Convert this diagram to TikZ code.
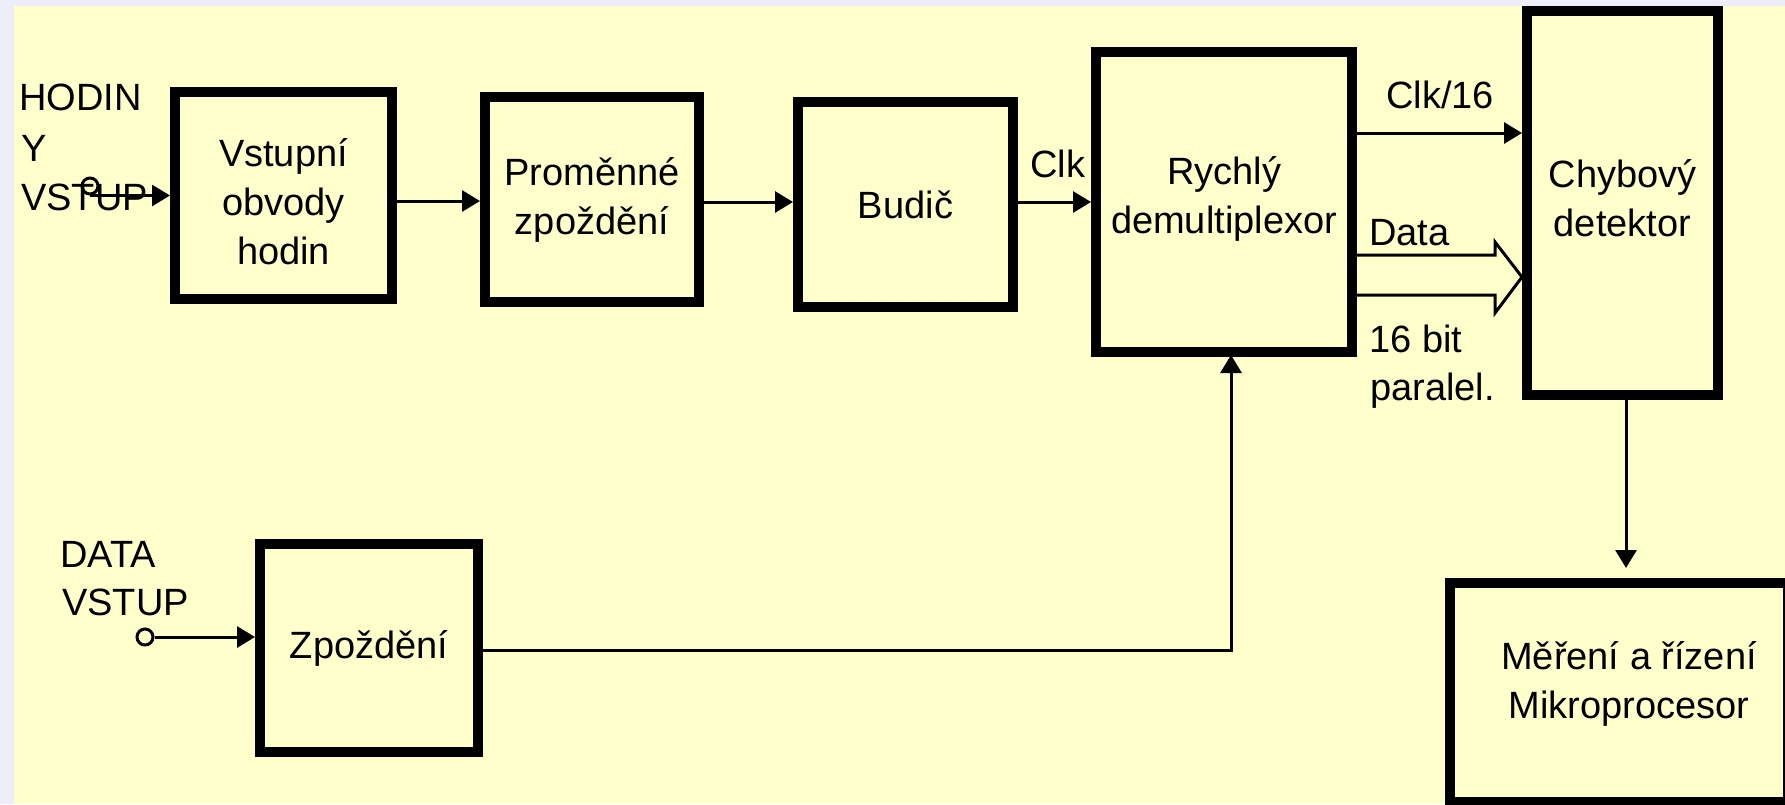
\documentclass[tikz,border=0pt]{standalone}
\usepackage{fontspec}
\setmainfont{Liberation Sans}
\usetikzlibrary{arrows.meta}
\definecolor{bgyellow}{RGB}{255,255,204}
\definecolor{bglav}{RGB}{238,238,250}
\newcommand\diagfont{\fontsize{38}{49}\selectfont}
\newcommand\dpt[1]{\rule[-#1]{0pt}{0pt}}
\begin{document}
\begin{tikzpicture}[x=1pt,y=-1pt,
  blk/.style={draw=black, line width=10pt, inner sep=0pt, align=center, font=\diagfont},
  lbl/.style={inner sep=0pt, anchor=base west, font=\diagfont},
  wire/.style={line width=3pt},
  arr/.style={line width=3pt, -{Triangle[length=18pt,width=21pt]}},
  term/.style={circle, draw=black, line width=3pt, minimum size=16pt, inner sep=0pt}]
\useasboundingbox (0,0) rectangle (1785,804);
\clip (0,0) rectangle (1785,804);
\fill[bglav] (0,0) rectangle (1785,804);
\fill[bgyellow] (14,6) rectangle (1785,804);

% blocks
\node[blk, minimum width=217pt, minimum height=207pt] (b1) at (283.5,195.5) {\rule{0pt}{40pt}Vstupní\\obvody\\hodin};
\node[blk, minimum width=214pt, minimum height=205pt] (b2) at (592,199.5) {Proměnné\\zpoždění\dpt{5pt}};
\node[blk, minimum width=215pt, minimum height=205pt] (b3) at (905.5,204.5) {Budič};
\node[blk, minimum width=256pt, minimum height=300pt] (b4) at (1224,202) {Rychlý\\demultiplexor\dpt{14pt}};
\node[blk, minimum width=191pt, minimum height=384pt] (b5) at (1622.5,203) {Chybový\\detektor\dpt{10pt}};
\node[blk, minimum width=338pt, minimum height=219pt] (b6) at (1619,692.5) {\hspace*{20pt}Měření a řízení\\\hspace*{20pt}Mikroprocesor\dpt{25pt}};
\node[blk, minimum width=218pt, minimum height=208pt] (b7) at (369,648) {Zpoždění};

% input labels
\node[lbl] (h1) at (19,110) {HODIN};
\node[lbl] (h2) at (21,161) {Y};
\node[lbl] (h3) at (21,210) {VSTUP};
\node[lbl] (d1) at (60,567) {DATA};
\node[lbl] (d2) at (62,615) {VSTUP};

% terminals
\node[term] (hc) at (90,186) {};
\node[term] (dc) at (145,637) {};

% signal labels
\node[lbl] (lclk) at (1030,177) {Clk};
\node[lbl] (lclk16) at (1386,108) {Clk/16};
\node[lbl] (ldata) at (1369,245) {Data};
\node[lbl] (lbit) at (1369,352) {16 bit};
\node[lbl] (lpar) at (1370,400) {paralel.};

% connectors
\draw[arr] (hc.south) -- (b1.west |- hc.south);
\draw[arr] (b1.east |- 0,201) -- (b2.west |- 0,201);
\draw[arr] (b2.east |- 0,202) -- (b3.west |- 0,202);
\draw[arr] (b3.east |- 0,202) -- (b4.west |- 0,202);
\draw[arr] (b4.east |- 0,133) -- (b5.west |- 0,133);
\draw[wire, line join=miter] (b4.east |- 0,255) -- (1495,255) -- (1495,242)
   -- (b5.west |- 0,277) -- (1495,313) -- (1495,295) -- (b4.east |- 0,295);
\coordinate (c56) at (1626,0);
\draw[arr, shorten >=10pt] (b5.south -| c56) -- (b6.north -| c56);
\draw[arr] (dc.east) -- (b7.west |- dc.east);
\coordinate (c74) at (1231,650);
\draw[arr, shorten >=-2pt] (b7.east |- c74) -- (c74) -- (b4.south -| c74);
\end{tikzpicture}
\end{document}
